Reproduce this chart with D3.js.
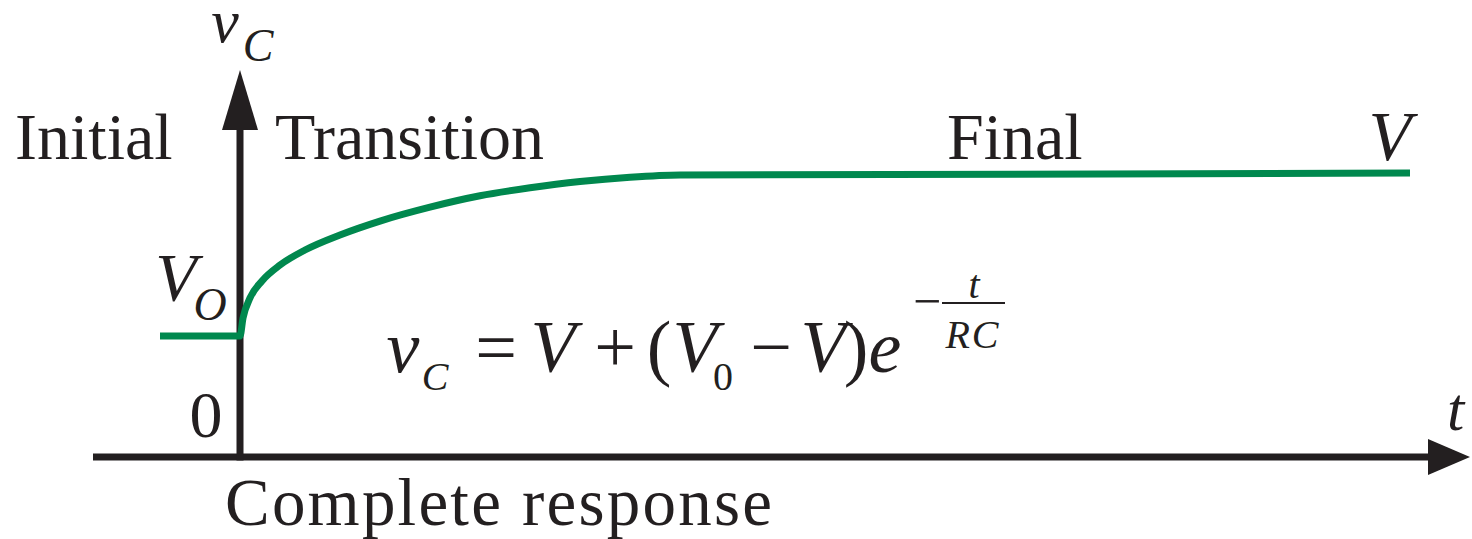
<!DOCTYPE html>
<html>
<head>
<meta charset="utf-8">
<script src="https://cdn.jsdelivr.net/npm/d3@7"></script>
<style>
  html, body { margin: 0; padding: 0; background: #ffffff; }
  svg { display: block; }
  text { font-family: "Liberation Serif", "Times New Roman", serif; fill: #231f20; }
</style>
</head>
<body>
<script>
// Capacitor voltage: initial level, transition, final level
const vFinal = 10;          // V
const vInitial = 4.26;      // V0
const tInitial = [-0.8, 0]; // flat segment before switching
// transition curve samples (t in units, vC)
const tTransition = [0, 0.03, 0.10, 0.22, 0.40, 0.65, 1.0, 1.4, 1.9, 2.4, 2.9, 3.4, 3.9, 4.4, 11.7];
const vTransition = [4.26, 4.89, 5.60, 6.20, 6.76, 7.29, 7.82, 8.31, 8.80, 9.20, 9.48, 9.70, 9.85, 9.93, 10.0];
const regionLabels = ["Initial", "Transition", "Final"];

const W = 1472, H = 539;
const ink = "#231f20";
const green = "#00884e";

const svg = d3.select("body").append("svg").attr("width", W).attr("height", H);

const x = d3.scaleLinear().domain([-1.47, 12.3]).range([93, 1470]);
const y = d3.scaleLinear().domain([0, 13.63]).range([457, 70]);

// axes (no ticks) drawn with arrowheads
const arrowLen = 42, arrowHalf = 18;
svg.append("line")
  .attr("x1", x(-1.47)).attr("x2", x(12.3) - arrowLen + 2)
  .attr("y1", y(0)).attr("y2", y(0))
  .attr("stroke", ink).attr("stroke-width", 7);
svg.append("path")
  .attr("d", `M${x(12.3)},${y(0)} L${x(12.3) - arrowLen},${y(0) - arrowHalf} L${x(12.3) - arrowLen},${y(0) + arrowHalf} Z`)
  .attr("fill", ink);

svg.append("line")
  .attr("x1", x(0)).attr("x2", x(0))
  .attr("y1", y(0) + 3.5).attr("y2", y(13.63) + 58)
  .attr("stroke", ink).attr("stroke-width", 7);
svg.append("path")
  .attr("d", `M${x(0)},${y(13.63)} L${x(0) - arrowHalf},${y(13.63) + 60} L${x(0) + arrowHalf},${y(13.63) + 60} Z`)
  .attr("fill", ink);

// response curve
const pts = [[tInitial[0], vInitial]].concat(tTransition.map((t, i) => [t, vTransition[i]]));
const line = d3.line().x(d => x(d[0])).y(d => y(d[1])).curve(d3.curveMonotoneX);
svg.append("path")
  .attr("d", line(pts))
  .attr("fill", "none")
  .attr("stroke", green)
  .attr("stroke-width", 7)
  .attr("stroke-linejoin", "round");

// helper for text
function txt(s, px, py, size, opts = {}) {
  const t = svg.append("text")
    .attr("x", px).attr("y", py)
    .attr("font-size", size)
    .attr("text-anchor", opts.anchor || "start")
    .text(s);
  if (opts.italic) t.attr("font-style", "italic");
  if (opts.spacing) t.attr("letter-spacing", opts.spacing);
  return t;
}

// axis titles
txt("v", 225, 42, 62, { italic: true, anchor: "middle" });
txt("C", 258, 61, 46, { italic: true, anchor: "middle" });
txt("t", 1447, 430, 62, { italic: true });

// region labels
txt(regionLabels[0], 15, 159, 66);
txt(regionLabels[1], 275, 159, 66);
txt(regionLabels[2], 947, 159, 66);
txt("V", 1390, 160, 70, { italic: true, anchor: "middle" });

// level labels on vertical axis
txt("V", 176, 300, 68, { italic: true, anchor: "middle" });
txt("O", 210, 320, 46, { italic: true, anchor: "middle" });
txt("0", 206, 437, 66, { anchor: "middle" });

// caption
txt("Complete response", 225, 525, 67, { spacing: 2.2 });

// formula  v_C = V + (V_0 - V) e^{-t/RC}
const fb = 372, fs = 74, ss = 40;
txt("v", 403, fb, fs, { italic: true, anchor: "middle" });
txt("C", 435, fb + 18, ss, { italic: true, anchor: "middle" });
txt("=", 496, fb, fs, { anchor: "middle" });
txt("V", 553, fb, fs, { italic: true, anchor: "middle" });
txt("+", 615, fb, fs, { anchor: "middle" });
txt("(", 659, fb, fs, { anchor: "middle" });
txt("V", 695, fb, fs, { italic: true, anchor: "middle" });
txt("0", 723, fb + 18, ss, { anchor: "middle" });
txt("\u2212", 771, fb, fs, { anchor: "middle" });
txt("V", 823, fb, fs, { italic: true, anchor: "middle" });
txt(")", 856, fb, fs, { anchor: "middle" });
txt("e", 885, fb, fs, { italic: true, anchor: "middle" });
txt("\u2212", 927, 318, 50, { anchor: "middle" });
svg.append("line")
  .attr("x1", 942).attr("x2", 1005).attr("y1", 303).attr("y2", 303)
  .attr("stroke", ink).attr("stroke-width", 2);
txt("t", 974, 298, 40, { italic: true, anchor: "middle" });
txt("RC", 973, 348, 40, { italic: true, anchor: "middle", spacing: 2 });
</script>
</body>
</html>
